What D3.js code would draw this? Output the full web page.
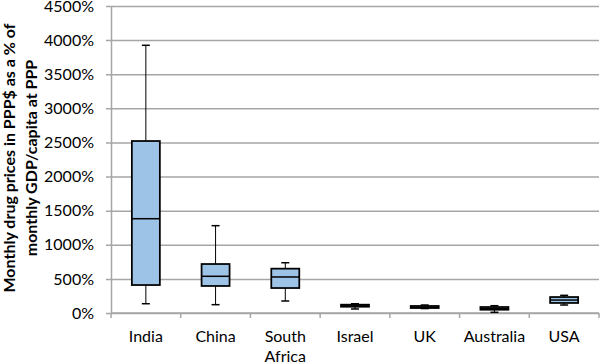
<!DOCTYPE html>
<html>
<head>
<meta charset="utf-8">
<script src="https://cdn.jsdelivr.net/npm/d3@7"></script>
<style>
  body { margin: 0; background: #fff; }
  text { font-family: Lato, "Open Sans", sans-serif; fill: #000; }
</style>
</head>
<body>
<div id="chart"></div>
<script>
const countries = ["India", "China", "South Africa", "Israel", "UK", "Australia", "USA"];
const mins    = [136, 122, 176, 59, 65, 10, 117];
const q1s     = [410, 396, 366, 92, 73, 48, 147];
const medians = [1382, 538, 528, 105, 85, 65, 190];
const q3s     = [2521, 718, 650, 122, 103, 88, 234];
const maxs    = [3924, 1280, 737, 136, 117, 107, 259];
const yTicks  = [0, 500, 1000, 1500, 2000, 2500, 3000, 3500, 4000, 4500];

const boxes = countries.map((c, i) => ({
  name: c, min: mins[i], q1: q1s[i], med: medians[i], q3: q3s[i], max: maxs[i]
}));

const width = 600;
const height = 364;
const margin = { top: 6, right: 1, bottom: 51, left: 111 };
const innerWidth = width - margin.left - margin.right;
const innerHeight = height - margin.top - margin.bottom;

const x = d3.scaleBand()
  .domain(countries)
  .range([0, innerWidth]);

const y = d3.scaleLinear()
  .domain([0, 4500])
  .range([innerHeight, 0]);

const svg = d3.select("#chart")
  .append("svg")
  .attr("width", width)
  .attr("height", height);

const g = svg.append("g")
  .attr("transform", `translate(${margin.left},${margin.top})`);

// gridlines + left ticks
const yAxis = g.append("g")
  .call(d3.axisLeft(y).tickValues(yTicks).tickSize(-innerWidth).tickSizeOuter(0)
    .tickFormat(d => d + "%").tickPadding(17));
yAxis.selectAll(".tick line").attr("stroke", "#a6a6a6").attr("stroke-width", 1.5).attr("x1", -5);
yAxis.select(".domain").attr("stroke", "#a6a6a6").attr("stroke-width", 1.5);
yAxis.selectAll(".tick text").attr("font-size", 16).attr("font-family", "Lato");

// bottom axis with ticks between categories
const xAxis = g.append("g")
  .attr("transform", `translate(0,${innerHeight})`);
xAxis.append("line")
  .attr("x1", 0).attr("x2", innerWidth)
  .attr("stroke", "#a6a6a6").attr("stroke-width", 1.5);
xAxis.selectAll(".sep")
  .data(d3.range(countries.length + 1))
  .enter().append("line")
  .attr("x1", i => i * x.step()).attr("x2", i => i * x.step())
  .attr("y1", 0).attr("y2", 5)
  .attr("stroke", "#a6a6a6").attr("stroke-width", 1.5);

xAxis.selectAll(".lbl")
  .data(countries)
  .enter().append("text")
  .attr("text-anchor", "middle")
  .attr("font-size", 16)
  .attr("x", d => x(d) + x.bandwidth() / 2)
  .each(function (d) {
    const words = d.split(" ");
    d3.select(this).selectAll("tspan")
      .data(words)
      .enter().append("tspan")
      .attr("x", x(d) + x.bandwidth() / 2)
      .attr("y", (w, i) => 29 + i * 19.5)
      .text(w => w);
  });

// boxes
const boxW = 28;
const bx = g.selectAll(".box")
  .data(boxes)
  .enter().append("g")
  .attr("transform", d => `translate(${x(d.name) + x.bandwidth() / 2},0)`);

bx.append("line")
  .attr("y1", d => y(d.min)).attr("y2", d => y(d.max))
  .attr("stroke", "#000").attr("stroke-width", 1);
["min", "max"].forEach(k => {
  bx.append("line")
    .attr("x1", -4).attr("x2", 4)
    .attr("y1", d => y(d[k])).attr("y2", d => y(d[k]))
    .attr("stroke", "#000").attr("stroke-width", 1.5);
});
bx.append("rect")
  .attr("x", -boxW / 2).attr("width", boxW)
  .attr("y", d => y(d.q3))
  .attr("height", d => Math.max(y(d.q1) - y(d.q3), 0.5))
  .attr("fill", "#9dc3e6")
  .attr("stroke", "#000").attr("stroke-width", 1.75);
bx.append("line")
  .attr("x1", -boxW / 2).attr("x2", boxW / 2)
  .attr("y1", d => y(d.med)).attr("y2", d => y(d.med))
  .attr("stroke", "#000").attr("stroke-width", 1.5);

// y-axis title
svg.append("text")
  .attr("transform", "translate(0,158) rotate(-90)")
  .attr("text-anchor", "middle")
  .attr("font-size", 16)
  .attr("font-weight", "bold")
  .selectAll("tspan")
  .data(["Monthly drug prices in PPP$ as a % of", "monthly GDP/capita at PPP"])
  .enter().append("tspan")
  .attr("x", 0)
  .attr("y", (d, i) => 15 + i * 22)
  .text(d => d);
</script>
</body>
</html>
